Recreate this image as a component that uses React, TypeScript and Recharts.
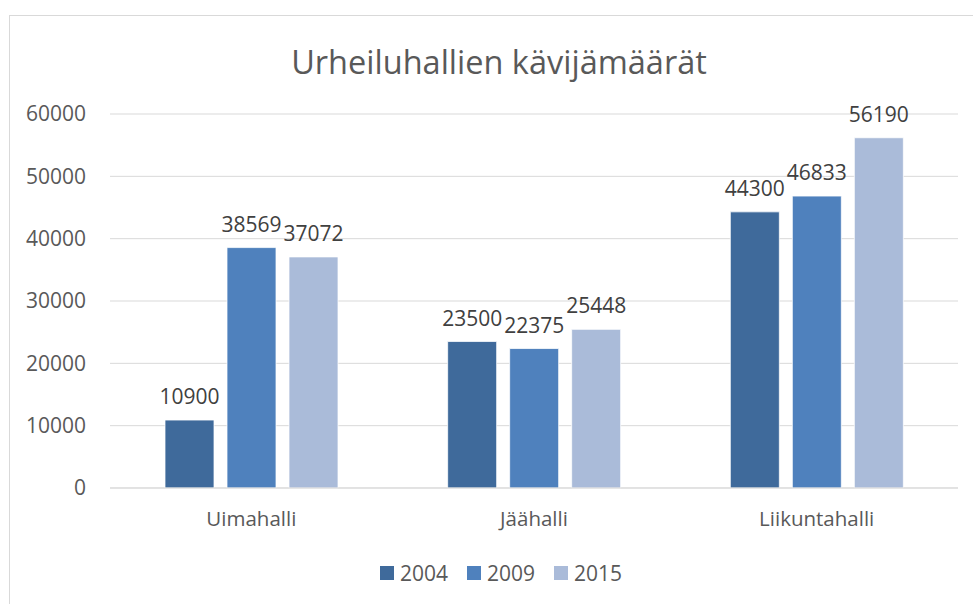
import { BarChart, Bar, XAxis, YAxis, CartesianGrid, Legend, LabelList } from 'recharts';

const categories = ['Uimahalli', 'Jäähalli', 'Liikuntahalli'];
const years = ['2004', '2009', '2015'];
const visitors2004 = [10900, 23500, 44300];
const visitors2009 = [38569, 22375, 46833];
const visitors2015 = [37072, 25448, 56190];
const yTicks = [0, 10000, 20000, 30000, 40000, 50000, 60000];

const COLORS = ['#3f6a9b', '#4f81bd', '#aabbd9'];
const FONT = '"Open Sans", sans-serif';

const data = categories.map((name, i) => ({
  name,
  '2004': visitors2004[i],
  '2009': visitors2009[i],
  '2015': visitors2015[i],
}));

const LegendContent = () => (
  <div
    style={{
      height: 30,
      paddingLeft: 34,
      display: 'flex',
      justifyContent: 'center',
      alignItems: 'center',
      fontFamily: FONT,
      fontSize: 21,
      color: '#595959',
    }}
  >
    {years.map((y, i) => (
      <div key={y} style={{ display: 'flex', alignItems: 'center', marginLeft: i ? 19 : 0 }}>
        <span style={{ width: 14, height: 14, background: COLORS[i], marginRight: 6 }} />
        <span>{y}</span>
      </div>
    ))}
  </div>
);

const App = () => {
  return (
    <div
      style={{
        position: 'absolute',
        left: 9,
        top: 15,
        width: 964,
        height: 589,
        borderTop: '1px solid #d9d9d9',
        borderLeft: '1px solid #d9d9d9',
        background: '#fff',
      }}
    >
      <div
        style={{
          position: 'absolute',
          left: 0,
          width: 978,
          top: 25,
          textAlign: 'center',
          fontFamily: FONT,
          fontSize: 32.5,
          color: '#595959',
          lineHeight: '42px',
        }}
      >
        Urheiluhallien kävijämäärät
      </div>
      <BarChart
        width={963}
        height={588}
        data={data}
        barSize={49}
        barGap={13}
        margin={{ top: 98, right: 15, left: 0, bottom: 16 }}
      >
        <CartesianGrid vertical={false} stroke="#d9d9d9" strokeWidth={1} />
        <XAxis
          dataKey="name"
          height={70}
          tickLine={false}
          axisLine={{ stroke: '#d9d9d9' }}
          tickSize={0}
          tickMargin={23}
          tick={{ fontFamily: FONT, fontSize: 20.5, fill: '#595959' }}
        />
        <YAxis
          width={100}
          domain={[0, 60000]}
          ticks={yTicks}
          interval={0}
          tickLine={false}
          axisLine={false}
          tickSize={0}
          tickMargin={24}
          tick={{ fontFamily: FONT, fontSize: 21, fill: '#595959' }}
        />
        <Legend verticalAlign="bottom" height={30} content={<LegendContent />} />
        {years.map((y, i) => (
          <Bar key={y} dataKey={y} fill={COLORS[i]} stroke="#ffffff" strokeWidth={0.75} isAnimationActive={false}>
            <LabelList
              dataKey={y}
              position="top"
              offset={16}
              style={{ fontFamily: FONT, fontSize: 21, fill: '#404040' }}
            />
          </Bar>
        ))}
      </BarChart>
    </div>
  );
};

export default App;
